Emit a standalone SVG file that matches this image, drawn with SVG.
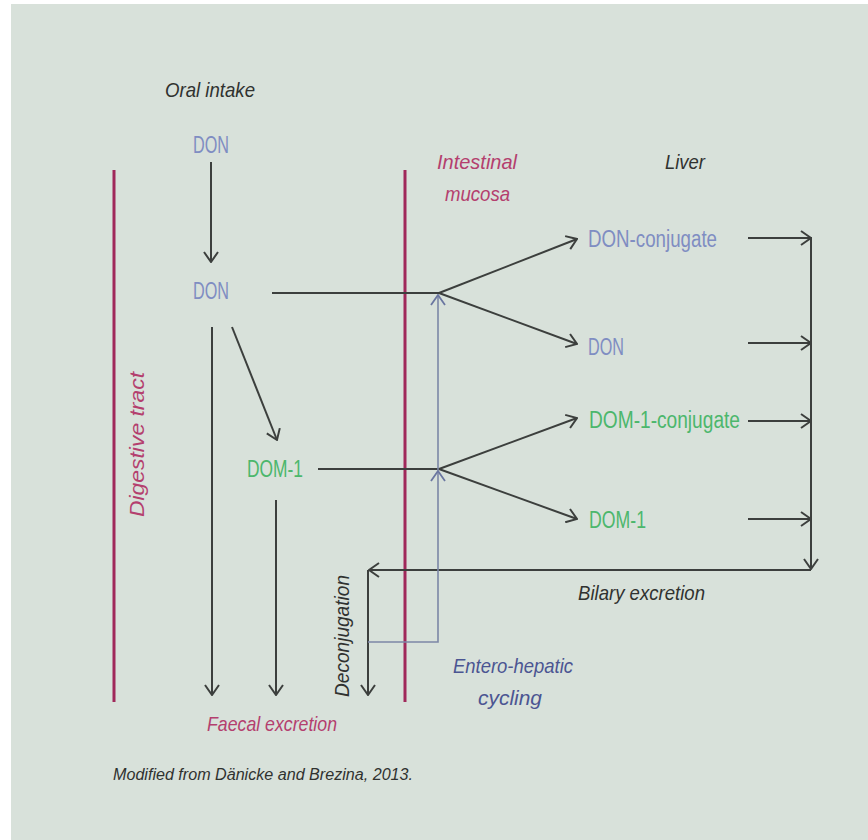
<svg xmlns="http://www.w3.org/2000/svg" width="868" height="840" viewBox="0 0 868 840">
<style>
.bg{fill:#d8e1da}
.wall{stroke:#a0285a;stroke-width:3;fill:none}
.ln{stroke:#3c3f3d;stroke-width:2;fill:none}
.bl{stroke:#7c87a6;stroke-width:1.6;fill:none}
.t{font-family:"Liberation Sans",Arial,sans-serif}
.it{font-style:italic}
.dk{fill:#303230}
.pk{fill:#b43f6e}
.bu{fill:#7f8dc2}
.gr{fill:#4cb76c}
.nv{fill:#4b5592}
</style>
<defs>
<marker id="ah" viewBox="0 0 12 16" refX="11" refY="8" markerWidth="12" markerHeight="16" markerUnits="userSpaceOnUse" orient="auto">
<path d="M1,1 L11,8 L1,15" fill="none" stroke="#3c3f3d" stroke-width="2"/>
</marker>
<marker id="ahb" viewBox="0 0 12 16" refX="11" refY="8" markerWidth="12" markerHeight="16" markerUnits="userSpaceOnUse" orient="auto">
<path d="M1,1 L11,8 L1,15" fill="none" stroke="#6a76a0" stroke-width="1.8"/>
</marker>
</defs>
<rect x="0" y="0" width="868" height="840" fill="#ffffff"/>
<rect class="bg" x="11" y="4" width="857" height="836"/>

<g id="walls">
<line class="wall" x1="114" y1="170" x2="114" y2="702"/>
<line class="wall" x1="405" y1="170" x2="405" y2="702"/>
</g>

<g id="connectors">
<line class="ln" x1="211" y1="162" x2="211" y2="262" marker-end="url(#ah)"/>
<line class="ln" x1="272" y1="293" x2="439" y2="293"/>
<line class="ln" x1="439" y1="293" x2="577" y2="239" marker-end="url(#ah)"/>
<line class="ln" x1="439" y1="293" x2="577" y2="344" marker-end="url(#ah)"/>
<line class="ln" x1="318" y1="469" x2="439" y2="469"/>
<line class="ln" x1="439" y1="469" x2="577" y2="418" marker-end="url(#ah)"/>
<line class="ln" x1="439" y1="469" x2="577" y2="519" marker-end="url(#ah)"/>
<line class="ln" x1="212" y1="327" x2="212" y2="695" marker-end="url(#ah)"/>
<line class="ln" x1="232" y1="327" x2="277" y2="440" marker-end="url(#ah)"/>
<line class="ln" x1="276" y1="500" x2="276" y2="695" marker-end="url(#ah)"/>
<line class="ln" x1="748" y1="238" x2="811" y2="238" marker-end="url(#ah)"/>
<line class="ln" x1="748" y1="343" x2="811" y2="343" marker-end="url(#ah)"/>
<line class="ln" x1="748" y1="421" x2="811" y2="421" marker-end="url(#ah)"/>
<line class="ln" x1="748" y1="519" x2="811" y2="519" marker-end="url(#ah)"/>
<line class="ln" x1="811" y1="237" x2="811" y2="569" marker-end="url(#ah)"/>
<line class="ln" x1="811" y1="570" x2="369" y2="570" marker-end="url(#ah)"/>
<line class="ln" x1="368" y1="570" x2="368" y2="695" marker-end="url(#ah)"/>
<polyline class="bl" points="368,642 438,642 438,471" marker-end="url(#ahb)"/>
<line class="bl" x1="438" y1="471" x2="438" y2="295" marker-end="url(#ahb)"/>
</g>

<g id="oral-intake"><text class="t it dk" x="165" y="97" font-size="21" textLength="90" lengthAdjust="spacingAndGlyphs">Oral intake</text></g>
<g id="don-top"><text class="t bu" x="193" y="153" font-size="23" textLength="36" lengthAdjust="spacingAndGlyphs">DON</text></g>
<g id="don-gut"><text class="t bu" x="193" y="299" font-size="23" textLength="36" lengthAdjust="spacingAndGlyphs">DON</text></g>
<g id="dom1-gut"><text class="t gr" x="247" y="477" font-size="23" textLength="56" lengthAdjust="spacingAndGlyphs">DOM-1</text></g>
<g id="digestive-tract"><text class="t it pk" x="0" y="0" font-size="21" textLength="145" lengthAdjust="spacingAndGlyphs" transform="translate(144,517) rotate(-90)">Digestive tract</text></g>
<g id="intestinal-mucosa">
<text class="t it pk" x="437" y="169" font-size="21" textLength="80" lengthAdjust="spacingAndGlyphs">Intestinal</text>
<text class="t it pk" x="445" y="201" font-size="21" textLength="65" lengthAdjust="spacingAndGlyphs">mucosa</text>
</g>
<g id="liver"><text class="t it dk" x="665" y="169" font-size="21" textLength="40" lengthAdjust="spacingAndGlyphs">Liver</text></g>
<g id="don-conjugate"><text class="t bu" x="588" y="247" font-size="23" textLength="129" lengthAdjust="spacingAndGlyphs">DON-conjugate</text></g>
<g id="don-liver"><text class="t bu" x="588" y="355" font-size="23" textLength="36" lengthAdjust="spacingAndGlyphs">DON</text></g>
<g id="dom1-conjugate"><text class="t gr" x="589" y="428" font-size="23" textLength="151" lengthAdjust="spacingAndGlyphs">DOM-1-conjugate</text></g>
<g id="dom1-liver"><text class="t gr" x="589" y="528" font-size="23" textLength="57" lengthAdjust="spacingAndGlyphs">DOM-1</text></g>
<g id="bilary"><text class="t it dk" x="578" y="600" font-size="21" textLength="127" lengthAdjust="spacingAndGlyphs">Bilary excretion</text></g>
<g id="deconjugation"><text class="t it dk" x="0" y="0" font-size="21" textLength="122" lengthAdjust="spacingAndGlyphs" transform="translate(349,697) rotate(-90)">Deconjugation</text></g>
<g id="entero-hepatic">
<text class="t it nv" x="453" y="673" font-size="21" textLength="120" lengthAdjust="spacingAndGlyphs">Entero-hepatic</text>
<text class="t it nv" x="478" y="705" font-size="21" textLength="64" lengthAdjust="spacingAndGlyphs">cycling</text>
</g>
<g id="faecal"><text class="t it pk" x="207" y="731" font-size="21" textLength="130" lengthAdjust="spacingAndGlyphs">Faecal excretion</text></g>
<g id="source"><text class="t it dk" x="113" y="780" font-size="16" textLength="300" lengthAdjust="spacingAndGlyphs">Modified from Dänicke and Brezina, 2013.</text></g>
</svg>
